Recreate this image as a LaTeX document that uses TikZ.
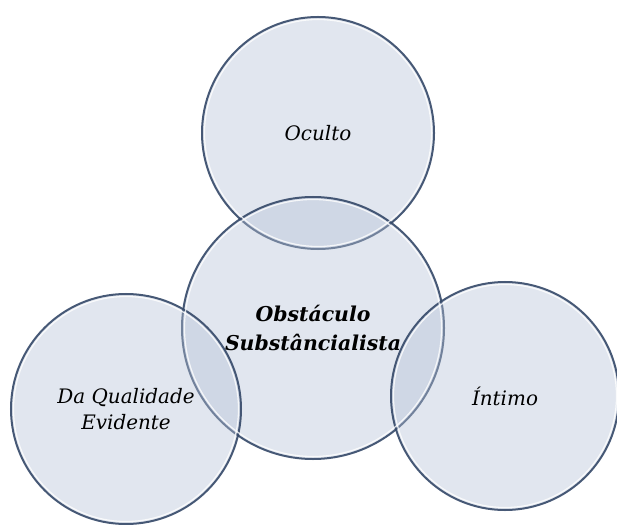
\documentclass[tikz,border=0pt]{standalone}
\usepackage{fontspec}
\setmainfont{DejaVu Serif}

\begin{document}
\begin{tikzpicture}[x=1bp, y=-1bp]
    \definecolor{bubblefill}{RGB}{180,192,214}
    \definecolor{bubblerim}{RGB}{52,72,104}
    \tikzstyle{bubble}=[circle, inner sep=0pt, fill=bubblefill, fill opacity=0.4,
                        draw=bubblerim, draw opacity=0.9, line width=2bp]
    \tikzstyle{shine}=[circle, inner sep=0pt, draw=white, draw opacity=0.8, line width=1.2bp]
    \tikzstyle{annot}=[align=center, font=\fontsize{20}{26}\selectfont\itshape]

    \useasboundingbox (0,0) rectangle (617,525);

    % Draw the four circles
    \foreach \name/\x/\y/\r in {top/318/133/116, centre/313/328/131, left/126/409/115, right/505/396/114}
      \node[bubble, minimum size=2*\r bp] (\name) at (\x,\y) {};

    % Light inner edge on every circle
    \foreach \name/\r in {top/116, centre/131, left/115, right/114}
      \node[shine, minimum size=2*\r bp - 5bp] at (\name.center) {};

    % Annotate the circles
    \node[annot] (top-label) at (top.center) {Oculto};
    \node[annot, font=\fontsize{20.5}{30}\selectfont\bfseries\itshape] (centre-label) at (centre.center) {Obstáculo\\Substâncialista};
    \node[annot] (left-label) at (left.center) {Da Qualidade\\Evidente};
    \node[annot] (right-label) at (right.center) {Íntimo};
\end{tikzpicture}
\end{document}
